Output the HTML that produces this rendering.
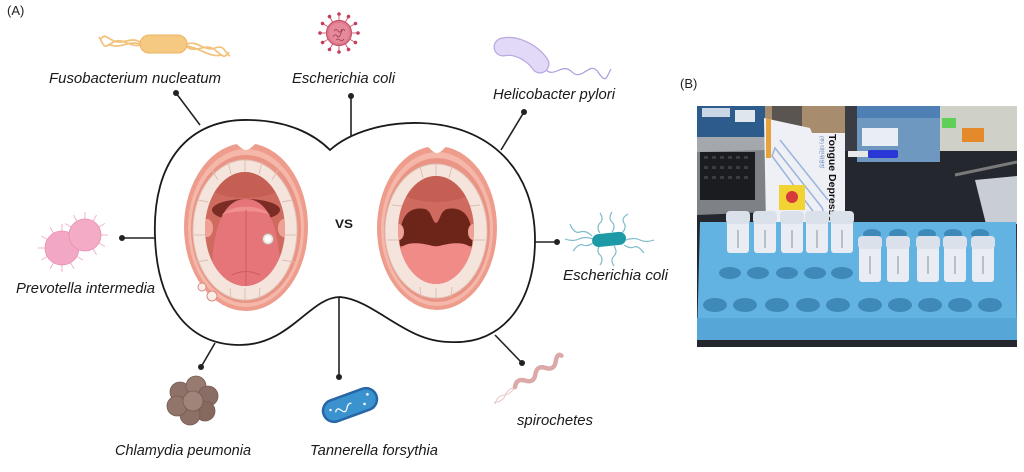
<!DOCTYPE html>
<html><head><meta charset="utf-8"><style>
html,body{margin:0;padding:0;background:#fff;}
svg{display:block;}
text{font-family:"Liberation Sans",Arial,sans-serif;}
</style></head><body>
<svg width="1024" height="472" viewBox="0 0 1024 472" xmlns="http://www.w3.org/2000/svg">
<defs>
<clipPath id="ph"><rect x="697" y="106" width="320" height="241"/></clipPath>
<clipPath id="lin"><ellipse cx="245" cy="229" rx="40" ry="57"/></clipPath>
<clipPath id="rin"><ellipse cx="436" cy="230" rx="38" ry="54"/></clipPath>
<clipPath id="tbox"><path d="M764 118 L810 128 L812 133 L845 133 L845 225 L766 225 Z"/></clipPath>
</defs>

<text x="7" y="15" font-size="13" fill="#222">(A)</text>
<text x="680" y="88" font-size="13" fill="#222">(B)</text>

<!-- outline -->
<path d="M155 237 C152 160,190 118,250 120 C290 121,315 135,330 150 C350 132,385 122,420 123 C490 125,535 170,535 240 C535 300,505 345,450 342 C405 342,375 300,340 297 C310 297,290 345,240 345 C185 345,157 300,155 237 Z" fill="none" stroke="#1a1a1a" stroke-width="1.8"/>

<!-- connectors -->
<g stroke="#222" stroke-width="1.6" fill="none">
<line x1="176" y1="93" x2="200" y2="125"/>
<line x1="351" y1="96" x2="351" y2="137"/>
<line x1="524" y1="112" x2="501" y2="150"/>
<line x1="122" y1="238" x2="155" y2="238"/>
<line x1="557" y1="242" x2="534" y2="242"/>
<line x1="201" y1="367" x2="215" y2="343"/>
<line x1="339" y1="297" x2="339" y2="377"/>
<line x1="522" y1="363" x2="495" y2="335"/>
</g>
<g fill="#222">
<circle cx="176" cy="93" r="3"/><circle cx="351" cy="96" r="3"/><circle cx="524" cy="112" r="3"/>
<circle cx="122" cy="238" r="3"/><circle cx="557" cy="242" r="3"/><circle cx="201" cy="367" r="3"/>
<circle cx="339" cy="377" r="3"/><circle cx="522" cy="363" r="3"/>
</g>

<!-- left mouth -->
<g>
<ellipse cx="246" cy="227" rx="62" ry="84" fill="#ee9d8d"/>
<ellipse cx="246" cy="228" rx="58" ry="79" fill="#f5b7a9"/>
<path d="M224 139 C236 139,240 150,246 150 C252 150,256 139,268 139 L268 130 L224 130 Z" fill="#fff"/>
<ellipse cx="246" cy="229" rx="55" ry="74" fill="#e99484"/>
<ellipse cx="245" cy="230" rx="52" ry="70" fill="#f4e4dc" stroke="#e0c2b6" stroke-width="1"/>
<g stroke="#dcbdb0" stroke-width="0.9">
<line x1="245" y1="160" x2="245" y2="172"/><line x1="228" y1="162" x2="231" y2="174"/><line x1="262" y1="162" x2="259" y2="174"/>
<line x1="212" y1="170" x2="218" y2="180"/><line x1="278" y1="170" x2="272" y2="180"/>
<line x1="198" y1="200" x2="208" y2="202"/><line x1="292" y1="200" x2="282" y2="202"/>
<line x1="194" y1="235" x2="206" y2="235"/><line x1="296" y1="235" x2="284" y2="235"/>
<line x1="196" y1="262" x2="208" y2="260"/><line x1="294" y1="262" x2="282" y2="260"/>
<line x1="230" y1="288" x2="231" y2="299"/><line x1="245" y1="288" x2="245" y2="300"/><line x1="260" y1="288" x2="259" y2="299"/>
</g>
<ellipse cx="245" cy="229" rx="40" ry="57" fill="#cf6b5e"/>
<g clip-path="url(#lin)">
<ellipse cx="245" cy="180" rx="42" ry="18" fill="#c55f53"/>
<ellipse cx="246" cy="210" rx="34" ry="11" fill="#7b2c24"/>
<ellipse cx="207" cy="228" rx="6" ry="9" fill="#f0a196"/>
<ellipse cx="284" cy="228" rx="6" ry="9" fill="#f0a196"/>
<path d="M212 300 C210 255,214 199,246 199 C278 199,282 255,280 300 Z" fill="#e6757a"/>
<path d="M222 215 C230 204,262 204,270 215 C260 210,232 210,222 215 Z" fill="#ef8f8e"/>
<path d="M246 210 L246 290 M232 275 Q246 268 260 275" stroke="#cf5a60" stroke-width="1" fill="none"/>
</g>
<circle cx="268" cy="239" r="5.5" fill="#f3ece4" stroke="#c59c92" stroke-width="1"/>
<circle cx="268" cy="239" r="3" fill="#fff"/>
<circle cx="202" cy="287" r="4" fill="#fbeee9" stroke="#d88a80" stroke-width="1"/>
<circle cx="212" cy="296" r="5" fill="#fbeee9" stroke="#d88a80" stroke-width="1"/>
</g>

<!-- right mouth -->
<g>
<ellipse cx="437" cy="228" rx="60" ry="82" fill="#ee9d8d"/>
<ellipse cx="437" cy="229" rx="56" ry="77" fill="#f5b7a9"/>
<path d="M416 142 C428 142,431 153,437 153 C443 153,446 142,458 142 L458 132 L416 132 Z" fill="#fff"/>
<ellipse cx="437" cy="230" rx="53" ry="72" fill="#e99484"/>
<ellipse cx="436" cy="231" rx="51" ry="67" fill="#f4e4dc" stroke="#e0c2b6" stroke-width="1"/>
<g stroke="#dcbdb0" stroke-width="0.9">
<line x1="436" y1="164" x2="436" y2="176"/><line x1="420" y1="166" x2="423" y2="178"/><line x1="452" y1="166" x2="449" y2="178"/>
<line x1="392" y1="205" x2="402" y2="206"/><line x1="480" y1="205" x2="470" y2="206"/>
<line x1="387" y1="240" x2="399" y2="240"/><line x1="485" y1="240" x2="473" y2="240"/>
<line x1="420" y1="287" x2="421" y2="297"/><line x1="436" y1="288" x2="436" y2="298"/><line x1="452" y1="287" x2="451" y2="297"/>
</g>
<ellipse cx="436" cy="230" rx="38" ry="54" fill="#cf6b5e"/>
<g clip-path="url(#rin)">
<ellipse cx="436" cy="185" rx="40" ry="17" fill="#c55f53"/>
<path d="M400 246 C398 215,410 206,425 209 C432 211,432 222,436 223 C440 222,440 211,447 209 C462 206,474 215,472 246 Z" fill="#6d2419"/>
<ellipse cx="399" cy="232" rx="5" ry="8" fill="#f0a196"/>
<ellipse cx="473" cy="232" rx="5" ry="8" fill="#f0a196"/>
<path d="M400 290 L400 252 C400 242,418 241,436 247 C454 241,472 242,472 252 L472 290 Z" fill="#f08b88"/>
</g>
</g>

<text x="335" y="228" font-size="12" font-weight="bold" fill="#1a1a1a" textLength="18" lengthAdjust="spacingAndGlyphs">VS</text>

<!-- Fusobacterium -->
<g fill="none" stroke="#f2c27a" stroke-width="1.7">
<path d="M140 42 C130 36,122 46,112 40 S104 36,100 40"/>
<path d="M140 45 C130 48,122 36,112 43 S104 44,99 37"/>
<path d="M140 44 C128 40,120 50,108 44"/>
<path d="M187 44 C197 40,205 52,215 48 S225 54,230 56"/>
<path d="M187 47 C197 54,205 42,215 50 S224 58,229 52"/>
<path d="M187 46 C200 48,210 58,222 55"/>
</g>
<rect x="140" y="35" width="47" height="18" rx="9" fill="#f6c983" stroke="#ebb35f" stroke-width="1"/>

<!-- virus -->
<g transform="translate(339 33)">
<g stroke="#d0607a" stroke-width="1">
<line x1="0" y1="-12" x2="0" y2="-19"/>
<line x1="0" y1="-12" x2="0" y2="-19" transform="rotate(30)"/>
<line x1="0" y1="-12" x2="0" y2="-19" transform="rotate(60)"/>
<line x1="0" y1="-12" x2="0" y2="-19" transform="rotate(90)"/>
<line x1="0" y1="-12" x2="0" y2="-19" transform="rotate(120)"/>
<line x1="0" y1="-12" x2="0" y2="-19" transform="rotate(150)"/>
<line x1="0" y1="-12" x2="0" y2="-19" transform="rotate(180)"/>
<line x1="0" y1="-12" x2="0" y2="-19" transform="rotate(210)"/>
<line x1="0" y1="-12" x2="0" y2="-19" transform="rotate(240)"/>
<line x1="0" y1="-12" x2="0" y2="-19" transform="rotate(270)"/>
<line x1="0" y1="-12" x2="0" y2="-19" transform="rotate(300)"/>
<line x1="0" y1="-12" x2="0" y2="-19" transform="rotate(330)"/>
</g>
<g fill="#c23e5c">
<circle cx="0" cy="-19" r="1.8"/>
<circle cx="0" cy="-19" r="1.8" transform="rotate(30)"/>
<circle cx="0" cy="-19" r="1.8" transform="rotate(60)"/>
<circle cx="0" cy="-19" r="1.8" transform="rotate(90)"/>
<circle cx="0" cy="-19" r="1.8" transform="rotate(120)"/>
<circle cx="0" cy="-19" r="1.8" transform="rotate(150)"/>
<circle cx="0" cy="-19" r="1.8" transform="rotate(180)"/>
<circle cx="0" cy="-19" r="1.8" transform="rotate(210)"/>
<circle cx="0" cy="-19" r="1.8" transform="rotate(240)"/>
<circle cx="0" cy="-19" r="1.8" transform="rotate(270)"/>
<circle cx="0" cy="-19" r="1.8" transform="rotate(300)"/>
<circle cx="0" cy="-19" r="1.8" transform="rotate(330)"/>
</g>
<circle r="12.5" fill="#e07a8e" stroke="#c8546a" stroke-width="1.2"/>
<circle r="10" fill="#e58a9b"/>
<path d="M-6 4 q2 -4 4 -1 t4 -3 t4 -2 M-5 -2 q2 -3 4 0 t4 -2 M-3 7 q2 -2 4 0 t4 -1" stroke="#a33a52" stroke-width="0.8" fill="none"/>
</g>

<!-- Helicobacter -->
<path d="M546 70 C555 78,562 62,572 72 S590 60,598 72 S606 78,611 69" stroke="#a99ddf" stroke-width="1.2" fill="none"/>
<path d="M503 47 C515 44,532 52,540 64" stroke="#b8a8e0" stroke-width="19" stroke-linecap="round" fill="none"/>
<path d="M503 47 C515 44,532 52,540 64" stroke="#e2d9f6" stroke-width="16.5" stroke-linecap="round" fill="none"/>

<!-- Prevotella -->
<g stroke="#f0b2c8" stroke-width="1">
<g transform="translate(62 248)">
<line x1="0" y1="-17" x2="0" y2="-24" transform="rotate(210)"/>
<line x1="0" y1="-17" x2="0" y2="-24" transform="rotate(240)"/>
<line x1="0" y1="-17" x2="0" y2="-24" transform="rotate(270)"/>
<line x1="0" y1="-17" x2="0" y2="-24" transform="rotate(300)"/>
<line x1="0" y1="-17" x2="0" y2="-24" transform="rotate(330)"/>
<line x1="0" y1="-17" x2="0" y2="-24" transform="rotate(0)"/>
<line x1="0" y1="-17" x2="0" y2="-24" transform="rotate(120)"/>
<line x1="0" y1="-17" x2="0" y2="-24" transform="rotate(150)"/>
<line x1="0" y1="-17" x2="0" y2="-24" transform="rotate(180)"/>
</g>
<g transform="translate(85 235)">
<line x1="0" y1="-16" x2="0" y2="-23"/>
<line x1="0" y1="-16" x2="0" y2="-23" transform="rotate(30)"/>
<line x1="0" y1="-16" x2="0" y2="-23" transform="rotate(60)"/>
<line x1="0" y1="-16" x2="0" y2="-23" transform="rotate(90)"/>
<line x1="0" y1="-16" x2="0" y2="-23" transform="rotate(120)"/>
<line x1="0" y1="-16" x2="0" y2="-23" transform="rotate(150)"/>
<line x1="0" y1="-16" x2="0" y2="-23" transform="rotate(330)"/>
<line x1="0" y1="-16" x2="0" y2="-23" transform="rotate(300)"/>
</g>
</g>
<circle cx="62" cy="248" r="17" fill="#f2a8c4" stroke="#e68fb3" stroke-width="0.8"/>
<circle cx="85" cy="235" r="16" fill="#f3abc6" stroke="#e68fb3" stroke-width="0.8"/>

<!-- E. coli right -->
<g fill="none" stroke="#7fbccb" stroke-width="1.2">
<path d="M600 233 q-4 -6 0 -10 t0 -10"/>
<path d="M612 232 q4 -6 0 -10 t0 -10"/>
<path d="M622 233 q5 -5 2 -10 t4 -9"/>
<path d="M593 239 q-8 -3 -14 0 t-14 0"/>
<path d="M626 240 q8 -3 14 0 t14 0"/>
<path d="M600 245 q-4 6 0 10 t0 10"/>
<path d="M614 246 q4 6 0 10 t0 10"/>
<path d="M624 245 q6 4 10 2 t10 6"/>
<path d="M592 236 q-6 -6 -12 -4 t-10 -8"/>
<path d="M593 243 q-6 4 -10 2 t-10 6"/>
</g>
<rect x="592" y="233" width="34" height="13" rx="6.5" fill="#1e9aa6" transform="rotate(-6 609 239)"/>

<!-- Chlamydia -->
<g stroke="#775a51" stroke-width="0.8">
<circle cx="180" cy="392" r="10" fill="#8e7269"/>
<circle cx="196" cy="386" r="10" fill="#977a70"/>
<circle cx="208" cy="396" r="10" fill="#8a6e65"/>
<circle cx="205" cy="411" r="10" fill="#85695f"/>
<circle cx="190" cy="415" r="10" fill="#8c7066"/>
<circle cx="177" cy="406" r="10" fill="#927569"/>
<circle cx="193" cy="401" r="10" fill="#a08479"/>
</g>

<!-- Tannerella -->
<g transform="translate(350 405) rotate(-20)">
<rect x="-28" y="-11" width="56" height="22" rx="11" fill="#3a92cf" stroke="#2866a6" stroke-width="2.5"/>
<path d="M-16 2 q3 -5 6 0 t6 0 t6 -3" stroke="#fff" fill="none" stroke-width="1.2"/>
<circle cx="-20" cy="-2" r="1.2" fill="#fff"/>
<circle cx="14" cy="4" r="1.3" fill="#fff"/>
<circle cx="20" cy="-4" r="1.3" fill="#fff"/>
</g>

<!-- spirochete -->
<g transform="translate(515 387) rotate(-32)">
<path d="M0 0 q-8 4 -14 1 t-12 3 M0 0 q-8 -2 -13 2 t-13 0" stroke="#e8c6c6" stroke-width="1" fill="none"/>
<path d="M0 0 q6 -7 12 0 t12 0 t12 0 t12 0 t8 -2" stroke="#dba9a8" stroke-width="4.5" stroke-linecap="round" fill="none"/>
</g>

<!-- labels -->
<g font-size="15" font-style="italic" fill="#1a1a1a">
<text x="49" y="83" textLength="172" lengthAdjust="spacingAndGlyphs">Fusobacterium nucleatum</text>
<text x="292" y="83" textLength="103" lengthAdjust="spacingAndGlyphs">Escherichia coli</text>
<text x="493" y="99" textLength="122" lengthAdjust="spacingAndGlyphs">Helicobacter pylori</text>
<text x="16" y="293" textLength="139" lengthAdjust="spacingAndGlyphs">Prevotella intermedia</text>
<text x="563" y="280" textLength="105" lengthAdjust="spacingAndGlyphs">Escherichia coli</text>
<text x="115" y="455" textLength="136" lengthAdjust="spacingAndGlyphs">Chlamydia peumonia</text>
<text x="310" y="455" textLength="128" lengthAdjust="spacingAndGlyphs">Tannerella forsythia</text>
<text x="517" y="425" textLength="76" lengthAdjust="spacingAndGlyphs">spirochetes</text>
</g>

<!-- photo -->
<g clip-path="url(#ph)">
<rect x="697" y="106" width="320" height="241" fill="#24272d"/>
<rect x="697" y="106" width="68" height="32" fill="#2d5b8c"/>
<rect x="702" y="108" width="28" height="9" fill="#c9d6e6"/>
<rect x="735" y="110" width="20" height="12" fill="#dfe6ee"/>
<path d="M697 137 L765 137 L770 212 L697 215 Z" fill="#7e8287"/>
<path d="M697 137 L765 137 L766 150 L697 152 Z" fill="#a4a8ad"/>
<rect x="700" y="152" width="55" height="48" fill="#1b1c1f"/>
<g fill="#3a3c40">
<rect x="704" y="156" width="4" height="3"/><rect x="712" y="156" width="4" height="3"/><rect x="720" y="156" width="4" height="3"/><rect x="728" y="156" width="4" height="3"/><rect x="736" y="156" width="4" height="3"/><rect x="744" y="156" width="4" height="3"/>
<rect x="704" y="166" width="4" height="3"/><rect x="712" y="166" width="4" height="3"/><rect x="720" y="166" width="4" height="3"/><rect x="728" y="166" width="4" height="3"/><rect x="736" y="166" width="4" height="3"/><rect x="744" y="166" width="4" height="3"/>
<rect x="704" y="176" width="4" height="3"/><rect x="712" y="176" width="4" height="3"/><rect x="720" y="176" width="4" height="3"/><rect x="728" y="176" width="4" height="3"/><rect x="736" y="176" width="4" height="3"/><rect x="744" y="176" width="4" height="3"/>
</g>
<rect x="765" y="106" width="82" height="30" fill="#a88c6e"/>
<rect x="772" y="106" width="30" height="30" fill="#5a5550"/>
<rect x="845" y="106" width="14" height="45" fill="#3a3d44"/>
<path d="M764 118 L810 128 L812 133 L845 133 L845 225 L766 225 Z" fill="#eef0f5"/>
<g clip-path="url(#tbox)">
<rect x="766" y="118" width="5" height="40" fill="#e8a23a"/>
<g stroke="#9bb4dc" stroke-width="1.5" fill="none">
<path d="M775 148 L820 205 Q826 212 820 214 L815 214 L772 156 Z"/>
<path d="M780 140 L828 200"/>
</g>
<rect x="779" y="185" width="26" height="25" fill="#f1d334"/>
<circle cx="792" cy="197" r="6" fill="#d63a3a"/>
<text x="0" y="0" font-size="10.5" font-weight="bold" fill="#111" transform="translate(829 134) rotate(90)" textLength="92" lengthAdjust="spacingAndGlyphs">Tongue Depressor</text>
<text x="0" y="0" font-size="5" fill="#5a7ab0" transform="translate(820 136) rotate(90)">(주) 대한위생장</text>
</g>
<rect x="857" y="106" width="83" height="56" fill="#6e98c0"/>
<rect x="857" y="106" width="83" height="12" fill="#4f80b5"/>
<rect x="862" y="128" width="36" height="18" fill="#e8eef4"/>
<rect x="848" y="151" width="20" height="6" fill="#e8e8e8"/>
<rect x="868" y="150" width="30" height="8" rx="2" fill="#2b36d6"/>
<rect x="940" y="106" width="77" height="45" fill="#cfd0c8"/>
<rect x="962" y="128" width="22" height="14" fill="#e48a2a"/>
<rect x="942" y="118" width="14" height="10" fill="#5fcf5a"/>
<line x1="955" y1="175" x2="1017" y2="162" stroke="#7a7a7a" stroke-width="3"/>
<path d="M975 180 L1017 176 L1017 224 L986 224 Z" fill="#c9ced4"/>
<!-- tray -->
<path d="M700 222 L1016 222 L1017 340 L697 340 Z" fill="#63b3e2"/>
<path d="M697 318 L1017 318 L1017 340 L697 340 Z" fill="#56a6d8"/>
<g fill="#3e89b8">
<ellipse cx="872" cy="234" rx="9" ry="5"/><ellipse cx="898" cy="234" rx="9" ry="5"/><ellipse cx="927" cy="234" rx="9" ry="5"/><ellipse cx="953" cy="234" rx="9" ry="5"/><ellipse cx="980" cy="234" rx="9" ry="5"/>
<ellipse cx="730" cy="273" rx="11" ry="6"/><ellipse cx="758" cy="273" rx="11" ry="6"/><ellipse cx="787" cy="273" rx="11" ry="6"/><ellipse cx="815" cy="273" rx="11" ry="6"/><ellipse cx="842" cy="273" rx="11" ry="6"/>
<ellipse cx="715" cy="305" rx="12" ry="7"/><ellipse cx="745" cy="305" rx="12" ry="7"/><ellipse cx="777" cy="305" rx="12" ry="7"/><ellipse cx="808" cy="305" rx="12" ry="7"/><ellipse cx="838" cy="305" rx="12" ry="7"/>
<ellipse cx="870" cy="305" rx="12" ry="7"/><ellipse cx="900" cy="305" rx="12" ry="7"/><ellipse cx="930" cy="305" rx="12" ry="7"/><ellipse cx="960" cy="305" rx="12" ry="7"/><ellipse cx="990" cy="305" rx="12" ry="7"/>
</g>
<!-- tubes -->
<g>
<rect x="727" y="213" width="22" height="40" rx="3" fill="#e9ecf2"/><rect x="726" y="211" width="24" height="13" rx="4" fill="#dbe1ea"/>
<rect x="754" y="213" width="22" height="40" rx="3" fill="#e9ecf2"/><rect x="753" y="211" width="24" height="13" rx="4" fill="#dbe1ea"/>
<rect x="781" y="213" width="22" height="40" rx="3" fill="#e9ecf2"/><rect x="780" y="211" width="24" height="13" rx="4" fill="#dbe1ea"/>
<rect x="806" y="213" width="22" height="40" rx="3" fill="#e9ecf2"/><rect x="805" y="211" width="24" height="13" rx="4" fill="#dbe1ea"/>
<rect x="831" y="213" width="22" height="40" rx="3" fill="#e9ecf2"/><rect x="830" y="211" width="24" height="13" rx="4" fill="#dbe1ea"/>
</g>
<g>
<rect x="859" y="238" width="22" height="44" rx="3" fill="#e9ecf2"/><rect x="858" y="236" width="24" height="13" rx="4" fill="#dbe1ea"/>
<rect x="887" y="238" width="22" height="44" rx="3" fill="#e9ecf2"/><rect x="886" y="236" width="24" height="13" rx="4" fill="#dbe1ea"/>
<rect x="917" y="238" width="22" height="44" rx="3" fill="#e9ecf2"/><rect x="916" y="236" width="24" height="13" rx="4" fill="#dbe1ea"/>
<rect x="944" y="238" width="22" height="44" rx="3" fill="#e9ecf2"/><rect x="943" y="236" width="24" height="13" rx="4" fill="#dbe1ea"/>
<rect x="972" y="238" width="22" height="44" rx="3" fill="#e9ecf2"/><rect x="971" y="236" width="24" height="13" rx="4" fill="#dbe1ea"/>
</g>
<g stroke="#8a8f9a" stroke-width="1">
<line x1="738" y1="230" x2="738" y2="248"/><line x1="765" y1="230" x2="765" y2="248"/><line x1="792" y1="230" x2="792" y2="248"/><line x1="817" y1="230" x2="817" y2="248"/><line x1="842" y1="230" x2="842" y2="248"/>
<line x1="870" y1="256" x2="870" y2="274"/><line x1="898" y1="256" x2="898" y2="274"/><line x1="928" y1="256" x2="928" y2="274"/><line x1="955" y1="256" x2="955" y2="274"/><line x1="983" y1="256" x2="983" y2="274"/>
</g>
</g>
</svg>
</body></html>
